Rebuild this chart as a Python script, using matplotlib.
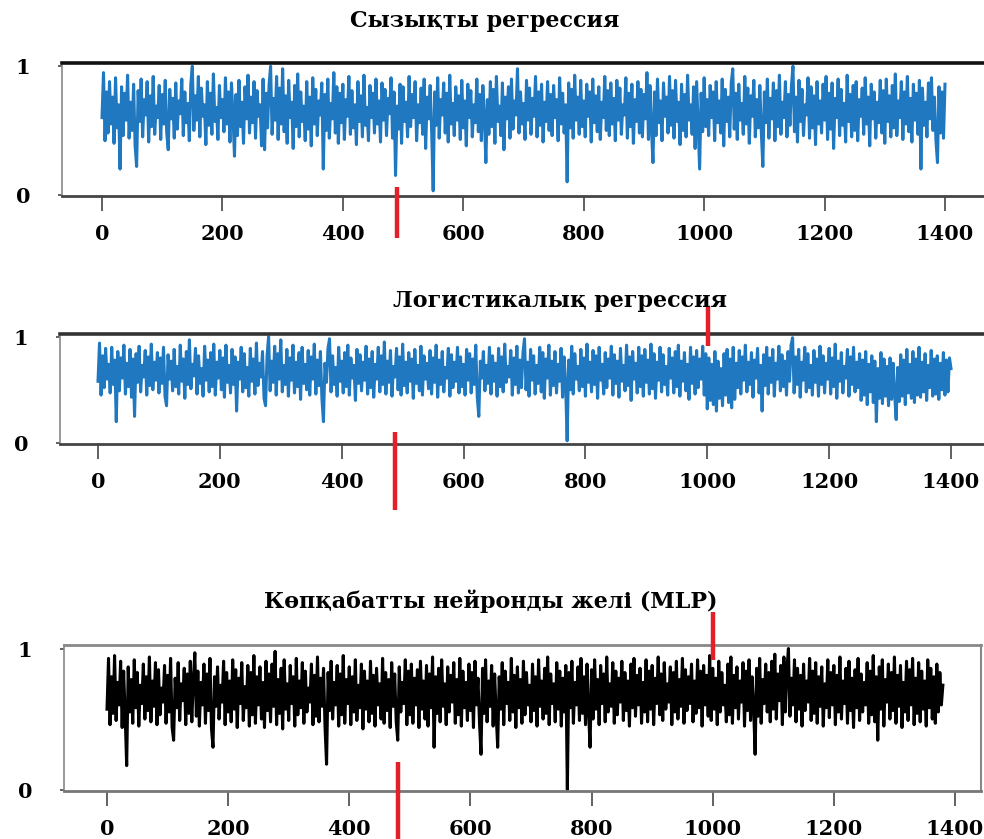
import numpy as np
import matplotlib
matplotlib.use("Agg")
import matplotlib.pyplot as plt
from matplotlib.lines import Line2D

titles = ["Сызықты регрессия", "Логистикалық регрессия", "Көпқабатты нейронды желі (MLP)"]
xticks = [0, 200, 400, 600, 800, 1000, 1200, 1400]
yticks = [0, 1]
step = 2.5

lin_reg = [
    0.60,0.95,0.42,0.80,0.48,0.88,0.55,0.76,0.40,0.91,0.52,0.70,0.20,0.84,0.46,0.79,0.58,0.93,0.44,0.72,
    0.50,0.86,0.38,0.22,0.81,0.57,0.90,0.45,0.74,0.62,0.88,0.41,0.77,0.53,0.92,0.47,0.69,0.60,0.85,0.43,
    0.78,0.55,0.89,0.48,0.35,0.82,0.59,0.75,0.44,0.87,0.51,0.73,0.63,0.90,0.46,0.80,0.56,0.71,0.42,0.86,
    1.00,0.50,0.77,0.58,0.92,0.45,0.83,0.61,0.70,0.39,0.88,0.54,0.79,0.47,0.94,0.57,0.68,0.43,0.85,0.60,
    0.74,0.49,0.91,0.55,0.80,0.41,0.87,0.62,0.30,0.78,0.46,0.89,0.53,0.72,0.40,0.84,0.59,0.93,0.48,0.76,
    0.56,0.88,0.44,0.81,0.61,0.70,0.38,0.90,0.35,0.79,0.52,0.86,1.00,0.47,0.75,0.58,0.92,0.43,0.83,0.55,
    0.98,0.49,0.77,0.40,0.89,0.60,0.72,0.36,0.85,0.53,0.94,0.45,0.80,0.57,0.69,0.42,0.88,0.51,0.76,0.38,
    0.91,0.55,0.82,0.46,0.73,0.62,0.87,0.20,0.78,0.50,0.90,0.44,0.71,0.59,0.95,0.48,0.84,0.40,0.79,0.56,
    0.86,0.43,0.74,0.61,0.92,0.47,0.81,0.52,0.70,0.39,0.88,0.57,0.77,0.45,0.93,0.54,0.68,0.42,0.85,0.60,
    0.79,0.48,0.90,0.55,0.73,0.41,0.87,0.58,0.82,0.46,0.75,0.63,0.91,0.44,0.80,0.15,0.69,0.51,0.86,0.40,
    0.84,0.57,0.72,0.45,0.92,0.53,0.78,0.60,0.88,0.42,0.70,0.56,0.83,0.47,0.90,0.36,0.76,0.59,0.85,0.49,
    0.03,0.80,0.54,0.91,0.44,0.74,0.62,0.87,0.48,0.79,0.41,0.93,0.55,0.71,0.46,0.84,0.58,0.77,0.43,0.89,
    0.52,0.73,0.38,0.86,0.60,0.81,0.45,0.70,0.56,0.90,0.49,0.78,0.42,0.85,0.61,0.25,0.74,0.47,0.88,0.53,
    0.82,0.40,0.92,0.57,0.69,0.46,0.87,0.35,0.76,0.59,0.84,0.44,0.90,0.51,0.73,0.62,0.98,0.48,0.80,0.55,
    0.71,0.43,0.89,0.58,0.83,0.47,0.75,0.61,0.92,0.45,0.80,0.54,0.86,0.41,0.72,0.57,0.88,0.50,0.78,0.46,
    0.85,0.60,0.74,0.42,0.91,0.55,0.79,0.48,0.70,0.10,0.87,0.52,0.82,0.44,0.93,0.58,0.76,0.47,0.89,0.53,
    0.73,0.45,0.86,0.61,0.80,0.41,0.90,0.56,0.77,0.49,0.84,0.43,0.72,0.60,0.92,0.50,0.81,0.46,0.87,0.55,
    0.75,0.42,0.89,0.58,0.83,0.47,0.70,0.62,0.91,0.44,0.79,0.53,0.86,0.40,0.74,0.57,0.88,0.48,0.82,0.45,
    0.78,0.59,0.95,0.43,0.85,0.51,0.25,0.80,0.46,0.90,0.56,0.73,0.42,0.87,0.61,0.76,0.48,0.92,0.54,0.81,
    0.44,0.89,0.57,0.72,0.39,0.86,0.50,0.78,0.45,0.93,0.58,0.70,0.47,0.84,0.36,0.88,0.55,0.20,0.79,0.49,
    0.91,0.53,0.74,0.46,0.85,0.60,0.80,0.42,0.88,0.56,0.73,0.48,0.90,0.38,0.82,0.57,0.76,0.45,0.87,0.98,
    0.51,0.79,0.43,0.86,0.58,0.71,0.47,0.92,0.55,0.83,0.40,0.77,0.61,0.89,0.45,0.74,0.52,0.85,0.48,0.22,
    0.80,0.56,0.90,0.44,0.75,0.59,0.87,0.42,0.81,0.53,0.93,0.47,0.72,0.60,0.88,0.45,0.78,0.54,0.85,1.00,
    0.49,0.76,0.41,0.89,0.57,0.82,0.46,0.70,0.62,0.91,0.44,0.84,0.52,0.77,0.39,0.88,0.55,0.73,0.48,0.86,
    0.58,0.92,0.43,0.79,0.51,0.87,0.36,0.75,0.60,0.90,0.46,0.82,0.54,0.71,0.41,0.93,0.57,0.78,0.45,0.85,
    0.50,0.88,0.42,0.74,0.61,0.83,0.47,0.91,0.55,0.76,0.38,0.86,0.59,0.80,0.44,0.72,0.56,0.89,0.48,0.81,
    0.40,0.90,0.57,0.77,0.45,0.85,0.52,0.94,0.46,0.73,0.60,0.88,0.43,0.80,0.55,0.92,0.49,0.75,0.41,0.86,
    0.58,0.79,0.47,0.89,0.20,0.83,0.54,0.72,0.45,0.87,0.59,0.91,0.50,0.76,0.42,0.25,0.84,0.48,0.80,0.44,
    0.86,
]

log_reg = [
    0.58,0.94,0.45,0.82,0.52,0.89,0.60,0.74,0.47,0.90,0.55,0.78,0.20,0.86,0.49,0.80,0.61,0.92,0.46,0.75,
    0.53,0.88,0.43,0.79,0.25,0.84,0.57,0.91,0.48,0.73,0.62,0.87,0.45,0.81,0.54,0.93,0.50,0.76,0.59,0.85,
    0.47,0.80,0.56,0.90,0.44,0.35,0.83,0.60,0.77,0.49,0.88,0.53,0.72,0.46,0.92,0.58,0.79,0.42,0.86,0.55,
    0.97,0.51,0.74,0.63,0.89,0.46,0.82,0.56,0.70,0.44,0.91,0.59,0.78,0.48,0.85,0.53,0.93,0.45,0.76,0.61,
    0.87,0.50,0.80,0.43,0.92,0.57,0.73,0.47,0.88,0.55,0.81,0.30,0.76,0.60,0.90,0.48,0.84,0.52,0.71,0.44,
    0.89,0.58,0.79,0.46,0.94,0.54,0.75,0.62,0.86,0.42,0.35,0.82,1.00,0.49,0.77,0.57,0.91,0.45,0.84,0.60,
    0.97,0.48,0.73,0.55,0.88,0.44,0.80,0.59,0.92,0.47,0.76,0.53,0.85,0.41,0.90,0.56,0.74,0.50,0.87,0.45,
    0.81,0.60,0.93,0.46,0.78,0.54,0.86,0.42,0.20,0.75,0.57,0.89,0.98,0.48,0.82,0.55,0.71,0.44,0.90,0.58,
    0.77,0.47,0.85,0.53,0.92,0.45,0.80,0.61,0.73,0.40,0.88,0.56,0.83,0.49,0.76,0.59,0.91,0.46,0.79,0.52,
    0.86,0.43,0.74,0.60,0.90,0.48,0.82,0.55,0.95,0.46,0.77,0.57,0.87,0.44,0.72,0.62,0.89,0.50,0.81,0.45,
    0.93,0.54,0.76,0.47,0.85,0.58,0.79,0.42,0.88,0.56,0.73,0.49,0.91,0.45,0.82,0.60,0.75,0.51,0.87,0.46,
    0.80,0.57,0.92,0.43,0.78,0.55,0.86,0.48,0.71,0.61,0.89,0.44,0.83,0.52,0.76,0.58,0.90,0.47,0.81,0.53,
    0.74,0.45,0.88,0.59,0.84,0.47,0.79,0.55,0.92,0.43,0.25,0.77,0.61,0.86,0.49,0.73,0.56,0.90,0.46,0.82,
    0.58,0.75,0.44,0.89,0.53,0.81,0.48,0.93,0.57,0.72,0.62,0.87,0.45,0.80,0.55,0.91,0.47,0.78,0.52,0.85,
    0.98,0.50,0.76,0.44,0.88,0.59,0.82,0.46,0.73,0.56,0.90,0.48,0.85,0.42,0.79,0.61,0.92,0.45,0.77,0.54,
    0.86,0.47,0.74,0.58,0.89,0.43,0.81,0.55,0.02,0.78,0.50,0.91,0.46,0.84,0.60,0.72,0.49,0.88,0.53,0.80,
    0.44,0.93,0.57,0.76,0.48,0.87,0.55,0.82,0.42,0.90,0.59,0.74,0.46,0.85,0.52,0.79,0.61,0.91,0.45,0.83,
    0.56,0.77,0.43,0.89,0.58,0.73,0.49,0.92,0.54,0.81,0.40,0.86,0.60,0.75,0.47,0.90,0.53,0.82,0.44,0.88,
    0.57,0.78,0.46,0.93,0.51,0.84,0.42,0.76,0.59,0.90,0.48,0.83,0.55,0.72,0.45,0.89,0.61,0.80,0.47,0.86,
    0.53,0.92,0.44,0.77,0.58,0.85,0.49,0.74,0.41,0.90,0.56,0.81,0.46,0.87,0.52,0.79,0.60,0.91,0.45,0.84,
    0.32,0.80,0.40,0.74,0.36,0.86,0.30,0.77,0.42,0.70,0.35,0.84,0.45,0.88,0.38,0.79,0.33,0.90,0.41,0.75,
    0.52,0.87,0.46,0.81,0.59,0.92,0.48,0.76,0.55,0.85,0.43,0.78,0.61,0.89,0.47,0.73,0.30,0.83,0.54,0.90,
    0.46,0.80,0.57,0.88,0.44,0.75,0.60,0.91,0.49,0.83,0.53,0.77,0.45,0.86,0.58,0.92,0.99,0.47,0.81,0.55,
    0.88,0.43,0.76,0.59,0.90,0.48,0.84,0.52,0.73,0.45,0.87,0.57,0.79,0.44,0.91,0.55,0.82,0.47,0.75,0.60,
    0.89,0.46,0.80,0.53,0.93,0.42,0.77,0.58,0.85,0.47,0.72,0.61,0.88,0.44,0.81,0.55,0.90,0.48,0.76,0.52,
    0.84,0.40,0.78,0.45,0.86,0.36,0.74,0.48,0.82,0.38,0.77,0.20,0.70,0.42,0.85,0.37,0.79,0.44,0.72,0.35,
    0.80,0.41,0.75,0.46,0.22,0.71,0.39,0.83,0.44,0.78,0.36,0.88,0.47,0.74,0.42,0.86,0.38,0.79,0.45,0.90,
    0.43,0.76,0.48,0.84,0.40,0.73,0.52,0.87,0.44,0.79,0.46,0.82,0.41,0.75,0.50,0.85,0.45,0.78,0.48,0.80,
    0.70,
]

mlp = [
    0.57,0.93,0.46,0.80,0.54,0.95,0.49,0.76,0.60,0.91,0.44,0.84,0.52,0.17,0.87,0.55,0.78,0.47,0.92,0.58,
    0.83,0.45,0.74,0.61,0.89,0.50,0.80,0.56,0.94,0.48,0.77,0.59,0.90,0.46,0.85,0.53,0.72,0.62,0.88,0.47,
    0.81,0.55,0.93,0.44,0.35,0.79,0.58,0.90,0.49,0.75,0.63,0.86,0.46,0.82,0.54,0.91,0.48,0.78,0.97,0.52,
    0.84,0.45,0.76,0.60,0.89,0.47,0.82,0.56,0.93,0.43,0.30,0.80,0.59,0.87,0.50,0.74,0.62,0.91,0.46,0.83,
    0.55,0.77,0.48,0.92,0.57,0.85,0.44,0.79,0.61,0.90,0.49,0.73,0.58,0.88,0.45,0.83,0.53,0.95,0.47,0.80,
    0.60,0.87,0.50,0.76,0.44,0.91,0.56,0.82,0.48,0.89,0.59,0.98,0.46,0.78,0.54,0.86,0.43,0.92,0.57,0.75,
    0.49,0.88,0.61,0.80,0.45,0.93,0.53,0.77,0.58,0.90,0.47,0.84,0.55,0.72,0.62,0.89,0.46,0.81,0.52,0.94,
    0.48,0.79,0.59,0.86,0.44,0.18,0.83,0.56,0.91,0.50,0.76,0.60,0.88,0.45,0.82,0.53,0.95,0.47,0.78,0.61,
    0.87,0.46,0.80,0.55,0.92,0.49,0.74,0.58,0.89,0.43,0.84,0.57,0.77,0.48,0.91,0.54,0.81,0.45,0.86,0.60,
    0.75,0.50,0.93,0.47,0.83,0.56,0.78,0.44,0.90,0.59,0.82,0.48,0.35,0.87,0.55,0.76,0.61,0.92,0.46,0.84,
    0.53,0.89,0.47,0.79,0.60,0.85,0.44,0.91,0.57,0.77,0.50,0.88,0.45,0.82,0.58,0.94,0.30,0.80,0.54,0.86,
    0.48,0.92,0.59,0.75,0.46,0.87,0.55,0.81,0.62,0.90,0.47,0.78,0.53,0.93,0.45,0.84,0.58,0.76,0.49,0.89,
    0.56,0.83,0.44,0.91,0.60,0.79,0.47,0.25,0.86,0.54,0.92,0.48,0.77,0.59,0.88,0.45,0.82,0.53,0.30,0.80,
    0.57,0.90,0.46,0.84,0.61,0.76,0.49,0.93,0.55,0.81,0.44,0.87,0.58,0.78,0.47,0.91,0.53,0.83,0.60,0.74,
    0.48,0.89,0.56,0.80,0.45,0.92,0.59,0.77,0.50,0.86,0.54,0.94,0.46,0.82,0.61,0.75,0.48,0.90,0.57,0.84,
    0.45,0.79,0.55,0.88,0.00,0.83,0.58,0.91,0.47,0.76,0.60,0.87,0.49,0.93,0.54,0.80,0.46,0.89,0.56,0.30,
    0.85,0.50,0.92,0.57,0.78,0.46,0.88,0.61,0.82,0.48,0.94,0.55,0.75,0.59,0.90,0.47,0.84,0.53,0.79,0.62,
    0.91,0.49,0.83,0.56,0.77,0.45,0.89,0.58,0.93,0.52,0.81,0.60,0.86,0.47,0.76,0.55,0.92,0.48,0.84,0.57,
    0.88,0.46,0.79,0.61,0.94,0.53,0.82,0.49,0.90,0.57,0.75,0.62,0.87,0.46,0.83,0.55,0.91,0.50,0.78,0.59,
    0.93,0.47,0.85,0.56,0.80,0.61,0.89,0.48,0.77,0.54,0.92,0.58,0.84,0.45,0.88,0.60,0.81,0.52,0.95,0.49,
    0.86,0.57,0.79,0.46,0.91,0.55,0.83,0.60,0.74,0.48,0.89,0.53,0.94,0.47,0.81,0.58,0.87,0.50,0.77,0.62,
    0.90,0.45,0.84,0.56,0.92,0.49,0.80,0.59,0.25,0.86,0.52,0.93,0.47,0.78,0.61,0.89,0.55,0.83,0.48,0.91,
    0.57,0.96,0.50,0.82,0.63,0.88,0.46,0.94,0.55,0.85,1.00,0.52,0.79,0.60,0.92,0.48,0.86,0.57,0.81,0.45,
    0.89,0.56,0.77,0.62,0.93,0.49,0.84,0.54,0.90,0.47,0.80,0.59,0.87,0.45,0.75,0.58,0.92,0.51,0.83,0.60,
    0.88,0.46,0.81,0.55,0.94,0.50,0.77,0.61,0.86,0.47,0.91,0.56,0.79,0.44,0.85,0.58,0.93,0.49,0.82,0.55,
    0.76,0.60,0.90,0.47,0.84,0.53,0.95,0.48,0.80,0.35,0.87,0.57,0.92,0.45,0.78,0.62,0.89,0.50,0.83,0.56,
    0.94,0.47,0.81,0.59,0.88,0.44,0.76,0.55,0.91,0.49,0.85,0.60,0.93,0.46,0.79,0.54,0.90,0.48,0.84,0.57,
    0.77,0.45,0.92,0.58,0.86,0.50,0.80,0.47,0.89,0.55,0.83,0.60,0.74,
]

series = [lin_reg, log_reg, mlp]
colors = ["#2079c0", "#2079c0", "#000000"]

W, H = 984, 839
fig = plt.figure(figsize=(W / 100, H / 100), dpi=100)

# axes boxes in pixels: left, right, top, bottom, px of x=0, px of x=1400
boxes = [
    (62, 992, 63, 196, 102, 945),
    (60, 992, 334, 444, 98, 951),
    (64, 981, 645, 791, 107, 955),
]
top_spine = [("#111111", 2.6), ("#333333", 2.6), ("#888888", 2.0)]
bot_spine = [("#444444", 2.0), ("#444444", 2.0), ("#777777", 2.0)]

font = "DejaVu Serif"
for k, (l, r, t, b, x0, x1) in enumerate(boxes):
    ax = fig.add_axes([l / W, 1 - b / H, (r - l) / W, (b - t) / H])
    y = np.array(series[k])
    x = np.arange(len(y)) * step
    ax.plot(x, y, color=colors[k], lw=2.2, solid_joinstyle="round")
    sc = (x1 - x0) / 1400.0
    ax.set_xlim(-(x0 - l) / sc, (r - x0) / sc)
    ax.set_ylim(-0.01, 1.025)
    ax.set_xticks(xticks)
    ax.set_yticks(yticks)
    ax.tick_params(axis="x", direction="out", length=11, width=1.3, color="#555555",
                   pad=9, labelsize=15)
    ax.tick_params(axis="y", direction="out", length=3, width=1.3, color="#555555",
                   pad=20, labelsize=15)
    for lab in ax.get_xticklabels() + ax.get_yticklabels():
        lab.set_fontfamily(font)
        lab.set_fontweight("bold")
    ax.spines["top"].set_color(top_spine[k][0])
    ax.spines["top"].set_linewidth(top_spine[k][1])
    ax.spines["bottom"].set_color(bot_spine[k][0])
    ax.spines["bottom"].set_linewidth(bot_spine[k][1])
    ax.spines["left"].set_color("#888888")
    ax.spines["left"].set_linewidth(1.2)
    ax.spines["right"].set_color("#888888")
    ax.spines["right"].set_linewidth(1.5)

title_pos = [(485, 21), (560, 301), (491, 601)]
for k, (tx, ty) in enumerate(title_pos):
    fig.text(tx / W, 1 - ty / H, titles[k], ha="center", va="center",
             fontfamily=font, fontweight="bold", fontsize=16)

# red marker annotations (pixel positions)
markers = [(397, 187, 238), (708, 306, 346), (395, 432, 510), (713, 612, 660), (398, 762, 839)]
for mx, y0, y1 in markers:
    fig.add_artist(Line2D([mx / W, mx / W], [1 - y0 / H, 1 - y1 / H],
                          transform=fig.transFigure, color="#e3202a", lw=3.2,
                          solid_capstyle="butt"))

fig.savefig("out.png", dpi=100)
